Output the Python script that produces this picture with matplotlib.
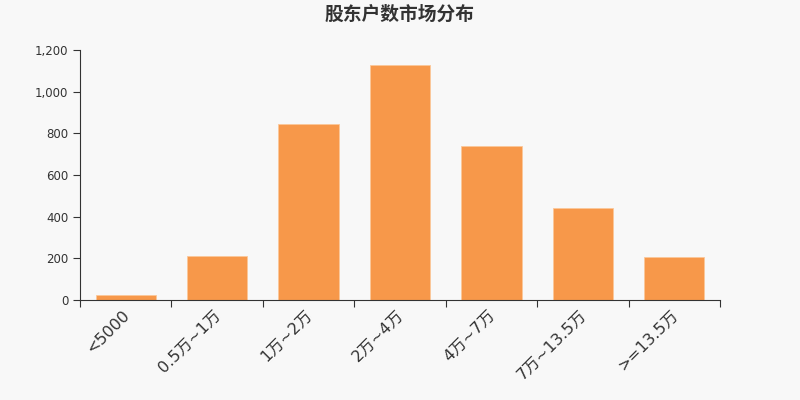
import matplotlib
matplotlib.use("Agg")
import matplotlib.pyplot as plt
import numpy as np
from matplotlib.ticker import FuncFormatter, FixedLocator, NullFormatter

plt.rcParams["font.family"] = ["DejaVu Sans", "Noto Sans CJK SC"]

categories = ["<5000", "0.5万~1万", "1万~2万", "2万~4万", "4万~7万", "7万~13.5万", ">=13.5万"]
holders = [22, 211, 845, 1128, 738, 442, 206]

BG = "#f8f8f8"
BAR = "#f7984a"
TEXT = "#333333"

fig = plt.figure(figsize=(8, 4), dpi=100, facecolor=BG)
ax = fig.add_axes([0.1, 0.25, 0.8, 0.625], facecolor=BG)

x = np.arange(len(categories))
ax.bar(x, holders, width=0.66, color=BAR, edgecolor="#fbc89a", linewidth=0.6)

ax.set_xlim(-0.5, len(categories) - 0.5)
ax.set_ylim(0, 1200)
ax.set_yticks(np.arange(0, 1201, 200))
ax.yaxis.set_major_formatter(FuncFormatter(lambda v, _: f"{int(v):,}"))

# category boundaries get the tick marks, labels sit at centres
ax.xaxis.set_major_locator(FixedLocator(np.arange(-0.5, len(categories), 1.0)))
ax.xaxis.set_major_formatter(NullFormatter())
ax.xaxis.set_minor_locator(FixedLocator(x - 0.04))
ax.set_xticklabels(categories, minor=True, rotation=45, ha="right",
                   rotation_mode="anchor", fontsize=11.5, color=TEXT)
ax.tick_params(axis="x", which="minor", length=0, pad=5)
ax.tick_params(axis="x", which="major", length=5, color=TEXT)
ax.tick_params(axis="y", length=5, color=TEXT, labelsize=8.5, labelcolor=TEXT)

for side in ("top", "right"):
    ax.spines[side].set_visible(False)
for side in ("left", "bottom"):
    ax.spines[side].set_color(TEXT)

fig.text(0.5, 0.965, "股东户数市场分布", ha="center", va="center",
         fontsize=13.5, fontweight="bold", color=TEXT,
         family=["Noto Sans CJK SC", "DejaVu Sans"])

fig.savefig("out.png", dpi=100, facecolor=BG)
